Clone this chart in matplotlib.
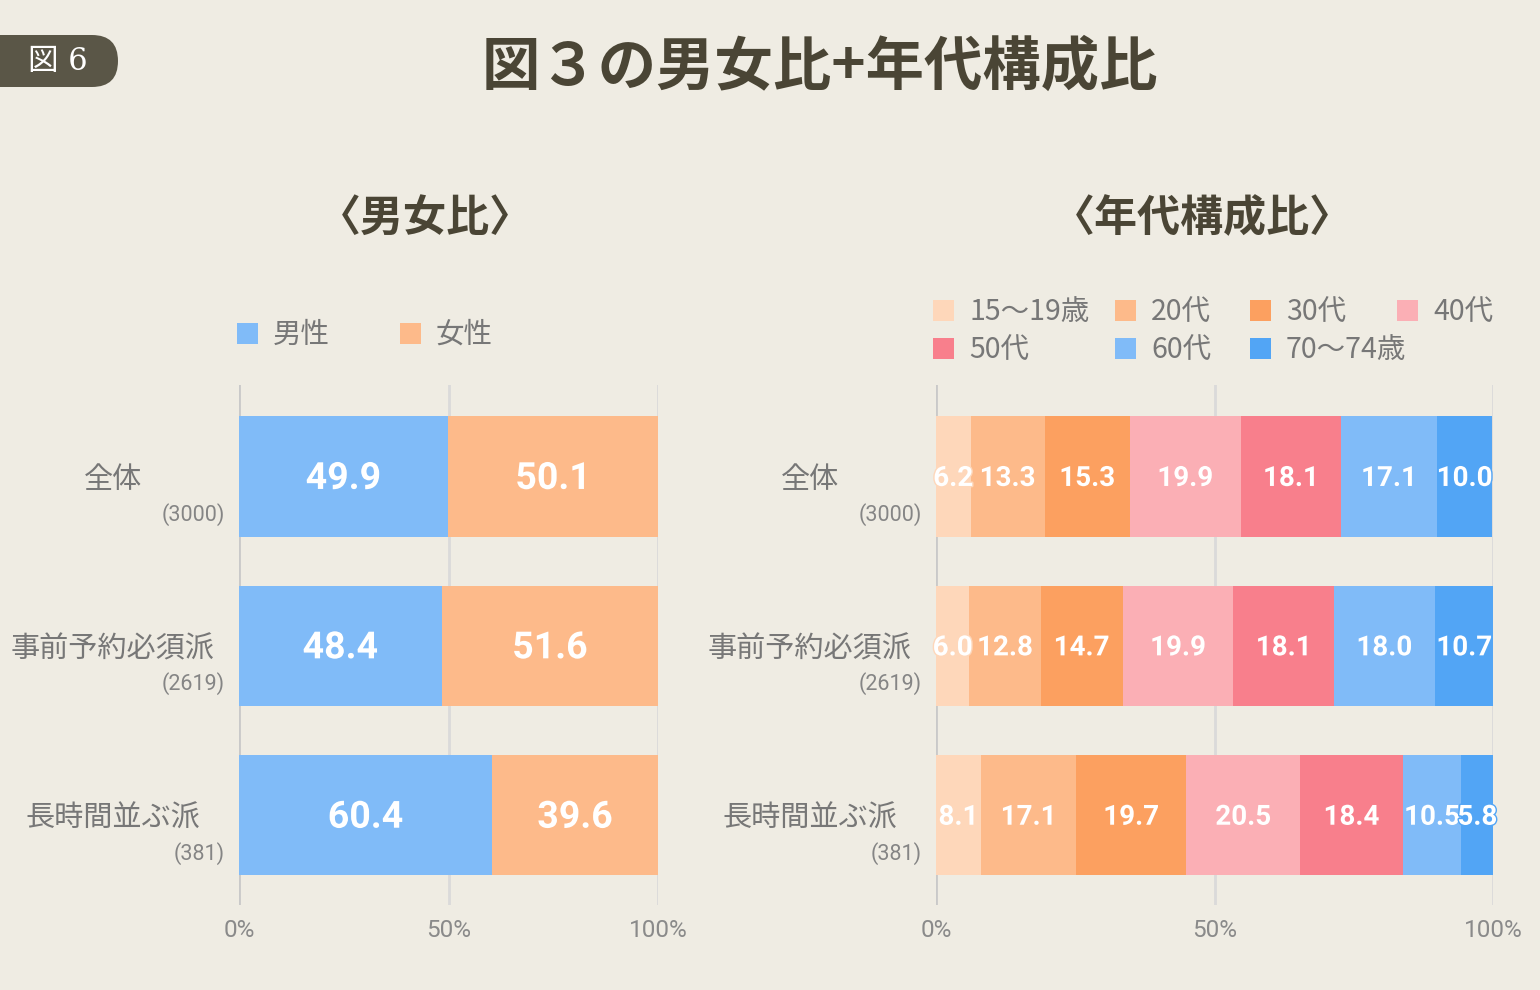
import matplotlib
matplotlib.use('Agg')
import matplotlib.pyplot as plt
from matplotlib.patches import Rectangle, FancyBboxPatch
from matplotlib.transforms import IdentityTransform
import matplotlib.patheffects as pe

plt.rcParams['font.family'] = ['Noto Sans CJK JP', 'DejaVu Sans']

# data
categories = ['全体', '事前予約必須派', '長時間並ぶ派']
sample_n = ['(3000)', '(2619)', '(381)']

gender_labels = ['男性', '女性']
male = [49.9, 48.4, 60.4]
female = [50.1, 51.6, 39.6]

age_labels = ['15〜19歳', '20代', '30代', '40代', '50代', '60代', '70〜74歳']
age_all = [6.2, 13.3, 15.3, 19.9, 18.1, 17.1, 10.0]
age_reserve = [6.0, 12.8, 14.7, 19.9, 18.1, 18.0, 10.7]
age_queue = [8.1, 17.1, 19.7, 20.5, 18.4, 10.5, 5.8]

xticks = [0, 50, 100]
xticklabels = ['0%', '50%', '100%']

gender_colors = ['#80BBF8', '#FDBA8A']
age_colors = ['#FED7BA', '#FDBA8A', '#FCA060', '#FBAFB5', '#F87F8C', '#80BBF8', '#52A5F5']

BG = '#EFECE3'
DARK = '#4A4535'
GRAY = '#777777'
NUM_FONT = ['Roboto', 'DejaVu Sans']

W, H = 1540, 990
fig = plt.figure(figsize=(W / 100, H / 100), dpi=100, facecolor=BG)


def fx(x):
    return x / W


def fy(y):
    return 1 - y / H


# badge + title
fig.add_artist(FancyBboxPatch((-40, H - 87), 158, 52, boxstyle='round,pad=0,rounding_size=26',
                              transform=IdentityTransform(), facecolor='#5A5647', edgecolor='none'))
fig.text(fx(58), fy(61), '図 6', color='white', fontsize=22, ha='center', va='center',
         family=['DejaVu Serif', 'Noto Sans CJK JP'])
fig.text(fx(820), fy(68), '図３の男女比+年代構成比', color=DARK, fontsize=42, fontweight='bold',
         ha='center', va='center')
fig.text(fx(425), fy(218), '〈男女比〉', color=DARK, fontsize=31, fontweight='bold', ha='center', va='center')
fig.text(fx(1202), fy(218), '〈年代構成比〉', color=DARK, fontsize=31, fontweight='bold', ha='center', va='center')


def legend_item(x, y, color, label):
    fig.add_artist(Rectangle((fx(x), fy(y + 11)), fx(21), 21 / H, transform=fig.transFigure,
                             facecolor=color, edgecolor='none'))
    fig.text(fx(x + 36), fy(y + 2), label, color=GRAY, fontsize=20.5, ha='left', va='center')


legend_item(237, 333, gender_colors[0], gender_labels[0])
legend_item(400, 333, gender_colors[1], gender_labels[1])
leg_pos = [(933, 310), (1115, 310), (1250, 310), (1397, 310), (933, 348), (1115, 348), (1250, 348)]
for (lx, ly), c, lab in zip(leg_pos, age_colors, age_labels):
    legend_item(lx, ly, c, lab)

top, bottom = fy(385), fy(905)
ax1 = fig.add_axes([fx(239), bottom, fx(658 - 239), top - bottom])
ax2 = fig.add_axes([fx(936), bottom, fx(1493 - 936), top - bottom])

bar_h = 120 / 169


def style_axis(ax):
    ax.set_facecolor('none')
    ax.set_xlim(0, 100)
    ax.set_ylim(2.53, -0.54)
    for s in ax.spines.values():
        s.set_visible(False)
    for v in xticks:
        ax.axvline(v, color='#C9C9C9' if v == 0 else '#DADADA', lw=2, zorder=0)
    ax.set_xticks(xticks)
    ax.set_xticklabels(xticklabels, family=NUM_FONT, fontsize=17.5, color='#8A8A8A')
    ax.tick_params(length=0, pad=10)
    ax.set_yticks([])
    for i, (cat, n) in enumerate(zip(categories, sample_n)):
        ax.annotate(cat, xy=(0, i), xytext=(-126, -4), textcoords='offset pixels',
                    ha='center', va='center', fontsize=21, color=GRAY)
        ax.annotate(n, xy=(0, i), xytext=(-14, -38), textcoords='offset pixels',
                    ha='right', va='center', fontsize=15.5, color='#858585', family=NUM_FONT)


def stacked(ax, rows, colors, fsize):
    y = list(range(len(rows)))
    for j, c in enumerate(colors):
        vals = [r[j] for r in rows]
        lefts = [sum(r[:j]) for r in rows]
        ax.barh(y, vals, left=lefts, height=bar_h, color=c, zorder=2)
        for yi, v, l in zip(y, vals, lefts):
            ax.annotate(f'{v:.1f}', xy=(l + v / 2, yi), xytext=(0, -2), textcoords='offset pixels',
                        ha='center', va='center', color='white',
                        fontsize=fsize, fontweight='bold', family=NUM_FONT, zorder=3,
                        path_effects=[pe.withStroke(linewidth=2, foreground=c)])


style_axis(ax1)
stacked(ax1, [list(p) for p in zip(male, female)], gender_colors, 27)
style_axis(ax2)
stacked(ax2, [age_all, age_reserve, age_queue], age_colors, 20)

fig.savefig('out.png', dpi=100, facecolor=BG)
